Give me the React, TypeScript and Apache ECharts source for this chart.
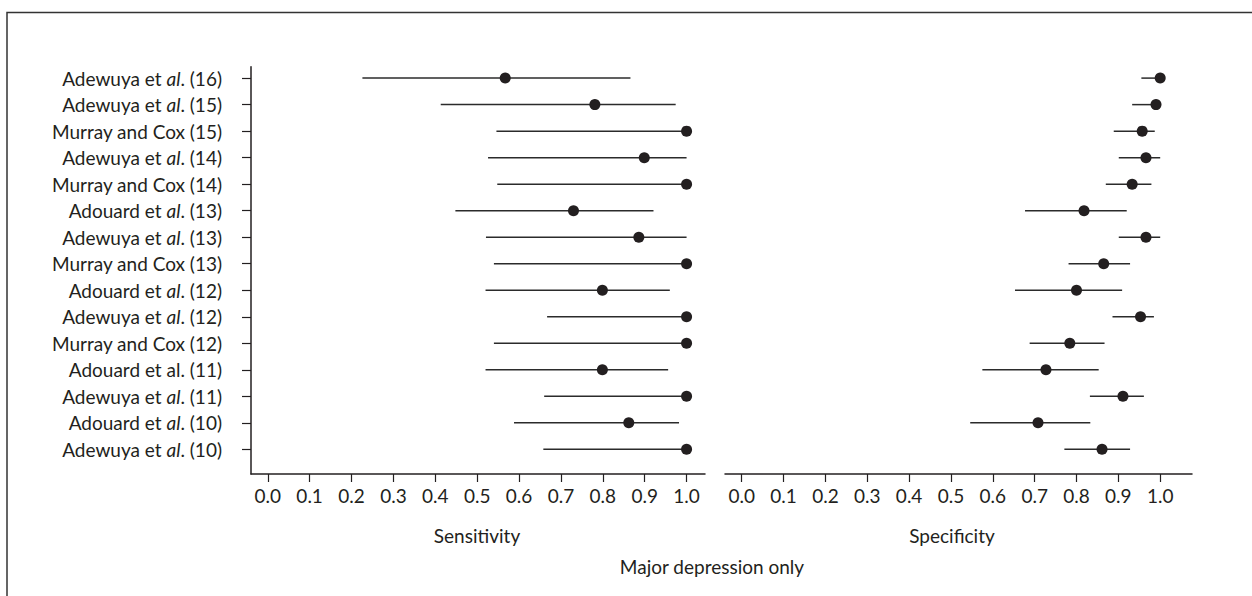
import React, { useEffect, useRef } from "react";
import * as echarts from "echarts";

// Study labels, top to bottom
const studies = [
  "Adewuya et al. (16)",
  "Adewuya et al. (15)",
  "Murray and Cox (15)",
  "Adewuya et al. (14)",
  "Murray and Cox (14)",
  "Adouard et al. (13)",
  "Adewuya et al. (13)",
  "Murray and Cox (13)",
  "Adouard et al. (12)",
  "Adewuya et al. (12)",
  "Murray and Cox (12)",
  "Adouard et al. (11)",
  "Adewuya et al. (11)",
  "Adouard et al. (10)",
  "Adewuya et al. (10)",
];
// whether "al" is set in italics in the label
const italicAl = [true, true, false, true, false, true, true, false, true, true, false, false, true, true, true];

const sensPoint = [0.567, 0.781, 1.0, 0.899, 1.0, 0.73, 0.886, 1.0, 0.799, 1.0, 1.0, 0.799, 1.0, 0.862, 1.0];
const sensLow = [0.226, 0.413, 0.546, 0.526, 0.548, 0.448, 0.521, 0.54, 0.52, 0.667, 0.54, 0.52, 0.66, 0.588, 0.658];
const sensHigh = [0.866, 0.974, 1.0, 1.0, 1.0, 0.921, 1.0, 1.0, 0.96, 1.0, 1.0, 0.956, 1.0, 0.982, 1.0];

const specPoint = [1.0, 0.99, 0.957, 0.966, 0.933, 0.818, 0.966, 0.865, 0.8, 0.953, 0.784, 0.727, 0.911, 0.708, 0.861];
const specLow = [0.955, 0.933, 0.889, 0.901, 0.87, 0.677, 0.901, 0.781, 0.653, 0.886, 0.688, 0.575, 0.832, 0.546, 0.771];
const specHigh = [1.0, 1.0, 0.987, 1.0, 0.979, 0.92, 1.0, 0.928, 0.909, 0.985, 0.867, 0.853, 0.961, 0.833, 0.928];

const xTicks = [0, 0.1, 0.2, 0.3, 0.4, 0.5, 0.6, 0.7, 0.8, 0.9, 1.0];
const rowValues = studies.map((_, i) => studies.length - i);

const FONT = "Lato";
const INK = "#231f20";
const FS = 19;

export default function App() {
  const ref = useRef<HTMLDivElement>(null);

  useEffect(() => {
    if (!ref.current) return;
    const chart = echarts.init(ref.current, undefined, { renderer: "svg" });

    const n = studies.length;
    const ciData = (lo: number[], hi: number[]) => lo.map((l, i) => [n - i, l, hi[i]]);
    const ptData = (p: number[]) => p.map((v, i) => [v, n - i]);

    const renderCI = (params: any, api: any) => {
      const y = api.value(0);
      const a = api.coord([api.value(1), y]);
      const b = api.coord([api.value(2), y]);
      return {
        type: "line",
        shape: { x1: a[0], y1: a[1], x2: b[0], y2: b[1] },
        style: { stroke: "#2b2b2b", lineWidth: 1.5 },
      };
    };

    const xAxisBase = (gridIndex: number, max: number) => ({
      type: "value",
      gridIndex,
      min: -0.04,
      max,
      axisLine: { show: true, onZero: false, lineStyle: { color: INK, width: 1.5 } },
      axisTick: { show: true, length: 8, customValues: xTicks, lineStyle: { color: INK, width: 1.2 } },
      axisLabel: {
        customValues: xTicks,
        formatter: (v: number) => v.toFixed(1),
        color: INK,
        fontFamily: FONT,
        fontSize: FS,
        margin: 12,
      },
      splitLine: { show: false },
    });

    const labelFormatter = (v: number) => {
      const i = n - Math.round(v);
      const s = studies[i];
      if (!s) return "";
      if (italicAl[i]) return s.replace("et al.", "et {i|al}.");
      return s;
    };

    chart.setOption({
      animation: false,
      backgroundColor: "#ffffff",
      grid: [
        { left: 251, right: 547, top: 66.7, bottom: 122 },
        { left: 725, right: 60, top: 66.7, bottom: 122 },
      ],
      xAxis: [xAxisBase(0, 1.044), xAxisBase(1, 1.076)],
      yAxis: [
        {
          type: "value",
          gridIndex: 0,
          min: 0.07,
          max: 15.43,
          axisLine: { show: true, onZero: false, lineStyle: { color: INK, width: 1.5 } },
          axisTick: { show: true, length: 9, customValues: rowValues, lineStyle: { color: INK, width: 1.2 } },
          axisLabel: {
            customValues: rowValues,
            formatter: labelFormatter,
            color: INK,
            fontFamily: FONT,
            fontSize: FS,
            margin: 29,
            rich: {
              i: { fontStyle: "italic", fontFamily: FONT, fontSize: FS, color: INK },
            },
          },
          splitLine: { show: false },
        },
        {
          type: "value",
          gridIndex: 1,
          min: 0.07,
          max: 15.43,
          show: false,
          splitLine: { show: false },
        },
      ],
      graphic: [
        {
          type: "polyline",
          shape: { points: [[7, 596], [7, 12.5], [1252, 12.5]] },
          style: { stroke: "#333", lineWidth: 1.5, fill: "none" },
          silent: true,
        },
        {
          type: "text",
          x: 477,
          y: 535,
          style: { text: "Sensitivity", fill: INK, font: `${FS}px ${FONT}`, align: "center", verticalAlign: "middle" },
        },
        {
          type: "text",
          x: 952,
          y: 535,
          style: { text: "Specificity", fill: INK, font: `${FS}px ${FONT}`, align: "center", verticalAlign: "middle" },
        },
        {
          type: "text",
          x: 712,
          y: 566,
          style: { text: "Major depression only", fill: INK, font: `${FS}px ${FONT}`, align: "center", verticalAlign: "middle" },
        },
      ],
      series: [
        {
          type: "custom",
          xAxisIndex: 0,
          yAxisIndex: 0,
          renderItem: renderCI,
          encode: { x: [1, 2], y: 0 },
          data: ciData(sensLow, sensHigh),
          z: 2,
        },
        {
          type: "scatter",
          xAxisIndex: 0,
          yAxisIndex: 0,
          symbol: "circle",
          symbolSize: 11,
          itemStyle: { color: INK, opacity: 1 },
          data: ptData(sensPoint),
          z: 3,
        },
        {
          type: "custom",
          xAxisIndex: 1,
          yAxisIndex: 1,
          renderItem: renderCI,
          encode: { x: [1, 2], y: 0 },
          data: ciData(specLow, specHigh),
          z: 2,
        },
        {
          type: "scatter",
          xAxisIndex: 1,
          yAxisIndex: 1,
          symbol: "circle",
          symbolSize: 11,
          itemStyle: { color: INK, opacity: 1 },
          data: ptData(specPoint),
          z: 3,
        },
      ],
    });

    return () => chart.dispose();
  }, []);

  return (
    <div
      ref={ref}
      style={{ position: "absolute", left: 0, top: 0, width: 1252, height: 596 }}
    />
  );
}
